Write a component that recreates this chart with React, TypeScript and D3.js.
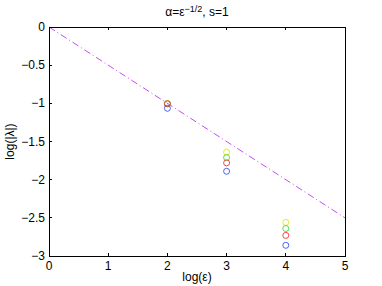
import * as React from "react";
import * as d3 from "d3";

// log(eps) positions of the measured points
const xs = [2, 3, 4];
// log(|lambda|) for each series
const yellowVals = [-1.005, -1.64, -2.56];
const greenVals = [-1.005, -1.71, -2.64];
const redVals = [-1.005, -1.78, -2.73];
const blueVals = [-1.065, -1.89, -2.86];
const seriesColors = ["#e6e600", "#33dd33", "#ee3333", "#3355ee"];
// reference line log|lambda| = -1/2 log(eps)
const refX = [0, 5];
const refY = [0, -2.5];
const xTicks = [0, 1, 2, 3, 4, 5];
const yTicks = [0, -0.5, -1, -1.5, -2, -2.5, -3];

export default function App() {
  const width = 382;
  const height = 286;
  const left = 49;
  const right = 345;
  const top = 27;
  const bottom = 256;

  const x = d3.scaleLinear().domain([0, 5]).range([left, right]);
  const y = d3.scaleLinear().domain([-3, 0]).range([bottom, top]);

  const line = d3
    .line<number>()
    .x((d) => x(d))
    .y((_, i) => y(refY[i]));

  const series = [yellowVals, greenVals, redVals, blueVals];
  const font = "'Liberation Sans', Arial, sans-serif";

  return (
    <svg
      width={width}
      height={height}
      style={{ position: "absolute", left: 0, top: 0, background: "#fff" }}
      fontFamily={font}
    >
      <rect x={0} y={0} width={width} height={height} fill="#fff" />
      <path
        d={line(refX) || ""}
        fill="none"
        stroke="#c44cf4"
        strokeWidth={1}
        strokeDasharray="7,3,1,3"
      />
      {series.map((vals, s) =>
        vals.map((v, i) => (
          <circle
            key={`${s}-${i}`}
            cx={x(xs[i])}
            cy={y(v)}
            r={3}
            fill="none"
            stroke={seriesColors[s]}
            strokeWidth={0.9}
          />
        ))
      )}
      <rect
        x={left}
        y={top}
        width={right - left}
        height={bottom - top}
        fill="none"
        stroke="#000"
        strokeWidth={1}
        shapeRendering="crispEdges"
      />
      {xTicks.map((t) => (
        <g key={`x${t}`}>
          <line x1={x(t)} x2={x(t)} y1={bottom} y2={bottom - 3} stroke="#000" shapeRendering="crispEdges" />
          <line x1={x(t)} x2={x(t)} y1={top} y2={top + 3} stroke="#000" shapeRendering="crispEdges" />
          <text x={x(t)} y={bottom + 14} fontSize={12} textAnchor="middle">
            {t}
          </text>
        </g>
      ))}
      {yTicks.map((t) => (
        <g key={`y${t}`}>
          <line x1={left} x2={left + 3} y1={y(t)} y2={y(t)} stroke="#000" shapeRendering="crispEdges" />
          <text x={left - 4} y={y(t) + 4} fontSize={12} textAnchor="end">
            {t === 0 ? "0" : "\u2212" + Math.abs(t)}
          </text>
        </g>
      ))}
      <text x={(left + right) / 2} y={16} fontSize={12} textAnchor="middle">
        α=ε
        <tspan dy={-4} fontSize={9}>
          −1/2
        </tspan>
        <tspan dy={4}>, s=1</tspan>
      </text>
      <text x={(left + right) / 2} y={281} fontSize={12} textAnchor="middle">
        log(ε)
      </text>
      <text
        transform={`translate(14,${(top + bottom) / 2}) rotate(-90)`}
        fontSize={12}
        textAnchor="middle"
      >
        log(|λ|)
      </text>
    </svg>
  );
}
